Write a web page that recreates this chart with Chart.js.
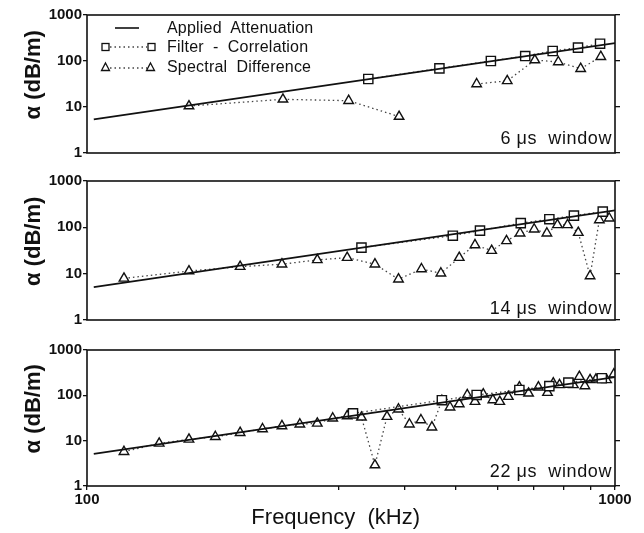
<!DOCTYPE html>
<html>
<head>
<meta charset="utf-8">
<script src="https://cdn.jsdelivr.net/npm/chart.js@4.4.1/dist/chart.umd.min.js"></script>
<style>
  body { margin: 0; background: #fff; }
  #wrap { position: relative; width: 644px; height: 533px; font-family: "Liberation Sans", Arial, sans-serif; color: #111; }
  #wrap canvas { position: absolute; left: 0; }
  .win { position: absolute; right: 32px; font-size: 18px; line-height: 20px; white-space: pre; letter-spacing: 0.6px; }
  .leg { position: absolute; left: 167px; font-size: 16px; line-height: 18px; white-space: pre; letter-spacing: 0.2px; }
  #legsym { position: absolute; left: 95px; top: 15px; }
</style>
</head>
<body>
<div id="wrap">
  <canvas id="p1" width="644" height="168" style="top:0px"></canvas>
  <canvas id="p2" width="644" height="168" style="top:166px"></canvas>
  <canvas id="p3" width="644" height="198" style="top:335px"></canvas>

  <svg id="legsym" width="70" height="64">
    <line x1="20" y1="13" x2="44" y2="13" stroke="#111" stroke-width="1.6"/>
    <line x1="15" y1="32" x2="52" y2="32" stroke="#444" stroke-width="1.3" stroke-dasharray="1.5 3"/>
    <rect x="7" y="28.5" width="7" height="7" fill="#fff" stroke="#111" stroke-width="1.3"/>
    <rect x="53" y="28.5" width="7" height="7" fill="#fff" stroke="#111" stroke-width="1.3"/>
    <line x1="15" y1="53" x2="52" y2="53" stroke="#444" stroke-width="1.3" stroke-dasharray="1.5 3"/>
    <polygon points="10.5,48 14.5,55.5 6.5,55.5" fill="#fff" stroke="#111" stroke-width="1.3"/>
    <polygon points="55.5,48 59.5,55.5 51.5,55.5" fill="#fff" stroke="#111" stroke-width="1.3"/>
  </svg>
  <div class="leg" style="top:19px">Applied  Attenuation</div>
  <div class="leg" style="top:38px">Filter  -  Correlation</div>
  <div class="leg" style="top:58px">Spectral  Difference</div>

  <div class="win" style="top:128px">6 μs  window</div>
  <div class="win" style="top:298px">14 μs  window</div>
  <div class="win" style="top:461px">22 μs  window</div>
</div>

<script>
// axes
const freqTicks = [100, 200, 300, 400, 500, 600, 700, 800, 900, 1000];
const freqLabels = ['100', '', '', '', '', '', '', '', '', '1000'];
const alphaTicks = [1, 10, 100, 1000];

// applied attenuation (straight line on log-log)
const appliedFreq = [103, 1000];
const applied6 = [5.4, 245];
const applied14 = [5.1, 232];
const applied22 = [5.1, 252];

// 6 us window
const filt6Freq = [341, 465, 582, 676, 762, 851, 937];
const filt6 = [40.6, 69, 100, 128, 165, 195, 238];
const spec6Freq = [156, 235, 313, 390, 470, 547, 625, 705, 781, 861, 940];
const spec6 = [10.5, 14.7, 13.7, 6.2, null, 31.6, 37, 105, 95, 68, 124];

// 14 us window
const filt14Freq = [331, 493, 555, 663, 751, 836, 948];
const filt14 = [36.5, 66, 85, 123, 150, 179, 218];
const spec14Freq = [117.5, 156, 195, 234, 273, 311, 351, 389, 430, 468, 507, 543, 584, 623, 661, 703, 743, 778, 813, 852, 897, 934, 975];
const spec14 = [7.9, 11.4, 14.2, 16, 19.8, 22.2, 16, 7.6, 12.6, 10.2, 22.2, 41.7, 31.4, 50.9, 74.5, 91, 74.5, 113, 113, 77, 8.9, 144, 157];

// 22 us window
const filt22Freq = [319, 470, 547, 659, 751, 816, 944];
const filt22 = [40, 78, 102, 131, 160, 191, 238];
const spec22Freq = [117.5, 137, 156, 175, 195, 215, 234, 253, 273, 292, 311, 331, 351, 370, 389, 408, 429, 450, 470, 487, 507, 525, 543, 563, 587, 605, 628, 659, 686, 716, 745, 764, 785, 834, 856, 877, 897, 920, 964, 995];
const spec22 = [5.7, 8.7, 10.7, 12.2, 15, 18.1, 21.1, 23, 24.1, 31.2, 35.1, 32.8, 2.9, 33.9, 49.3, 23, 28.6, 19.8, 76.4, 54.6, 64.6, 102, 72.6, 106, 79, 72.6, 93.6, 151, 111, 151, 115, 185, 170, 170, 259, 161, 219, 226, 219, 292];

Chart.defaults.font.family = '"Liberation Sans", Arial, sans-serif';
Chart.defaults.color = '#111';

const ink = '#111';

function pts(xs, ys) {
    return xs.map((x, i) => ({x: x, y: ys[i]}));
}

// box round the plot area
const frame = {
    id: 'frame',
    afterDatasetsDraw(chart) {
        const a = chart.chartArea, c = chart.ctx;
        c.save();
        c.strokeStyle = ink;
        c.lineWidth = 1.6;
        c.strokeRect(a.left, a.top, a.right - a.left, a.bottom - a.top);
        c.restore();
    }
};

function makePanel(id, applied, filtFreq, filt, specFreq, spec, bottomPanel) {
    const xScale = {
        type: 'logarithmic',
        min: 100,
        max: 1000,
        display: bottomPanel,
        afterBuildTicks: s => { s.ticks = freqTicks.map(v => ({value: v})); },
        ticks: {
            autoSkip: false,
            maxRotation: 0,
            padding: 1,
            font: {size: 15, weight: 'bold'},
            callback: v => freqLabels[freqTicks.indexOf(v)] || ''
        },
        grid: {drawOnChartArea: false, drawTicks: true, tickLength: 4, color: ink, lineWidth: 1.3},
        border: {display: false},
        title: {
            display: true,
            text: 'Frequency  (kHz)     ',
            font: {size: 22},
            padding: {top: 0, bottom: 2}
        }
    };
    if (bottomPanel) {
        xScale.afterFit = s => { s.height = 47; };
    }

    new Chart(document.getElementById(id), {
        type: 'scatter',
        data: {
            datasets: [
                {
                    label: 'Applied Attenuation',
                    data: pts(appliedFreq, applied),
                    showLine: true,
                    borderColor: ink,
                    borderWidth: 1.7,
                    pointRadius: 0
                },
                {
                    label: 'Filter - Correlation',
                    data: pts(filtFreq, filt),
                    showLine: true,
                    borderColor: '#444',
                    borderWidth: 1.3,
                    borderDash: [1.5, 3],
                    pointStyle: 'rect',
                    pointRadius: 6.5,
                    pointBorderWidth: 1.4,
                    pointBorderColor: ink,
                    pointBackgroundColor: '#fff'
                },
                {
                    label: 'Spectral Difference',
                    data: pts(specFreq, spec),
                    showLine: true,
                    spanGaps: false,
                    borderColor: '#444',
                    borderWidth: 1.3,
                    borderDash: [1.5, 3],
                    pointStyle: 'triangle',
                    pointRadius: 5.5,
                    pointBorderWidth: 1.4,
                    pointBorderColor: ink,
                    pointBackgroundColor: '#fff'
                }
            ]
        },
        options: {
            responsive: false,
            animation: false,
            events: [],
            layout: {padding: {left: 0, right: 24, top: 15, bottom: bottomPanel ? 0 : (id === 'p1' ? 15 : 14)}},
            plugins: {legend: {display: false}, tooltip: {enabled: false}},
            scales: {
                x: xScale,
                y: {
                    type: 'logarithmic',
                    min: 1,
                    max: 1000,
                    afterBuildTicks: s => { s.ticks = alphaTicks.map(v => ({value: v})); },
                    afterFit: s => { s.width = 87; },
                    ticks: {
                        padding: 1,
                        font: {size: 15, weight: 'bold'},
                        callback: v => String(v)
                    },
                    grid: {drawOnChartArea: false, tickLength: 4, color: ink, lineWidth: 1.3},
                    border: {display: false},
                    title: {
                        display: true,
                        text: '   α (dB/m)',
                        font: {size: 22, weight: 'bold'},
                        padding: {top: 21, bottom: 0}
                    }
                },
                y2: {
                    type: 'logarithmic',
                    position: 'right',
                    min: 1,
                    max: 1000,
                    afterBuildTicks: s => { s.ticks = alphaTicks.map(v => ({value: v})); },
                    afterFit: s => { s.width = 5; },
                    ticks: {display: false},
                    grid: {drawOnChartArea: false, tickLength: 5, color: ink, lineWidth: 1.3},
                    border: {display: false}
                }
            }
        },
        plugins: [frame]
    });
}

makePanel('p1', applied6, filt6Freq, filt6, spec6Freq, spec6, false);
makePanel('p2', applied14, filt14Freq, filt14, spec14Freq, spec14, false);
makePanel('p3', applied22, filt22Freq, filt22, spec22Freq, spec22, true);
</script>
</body>
</html>
